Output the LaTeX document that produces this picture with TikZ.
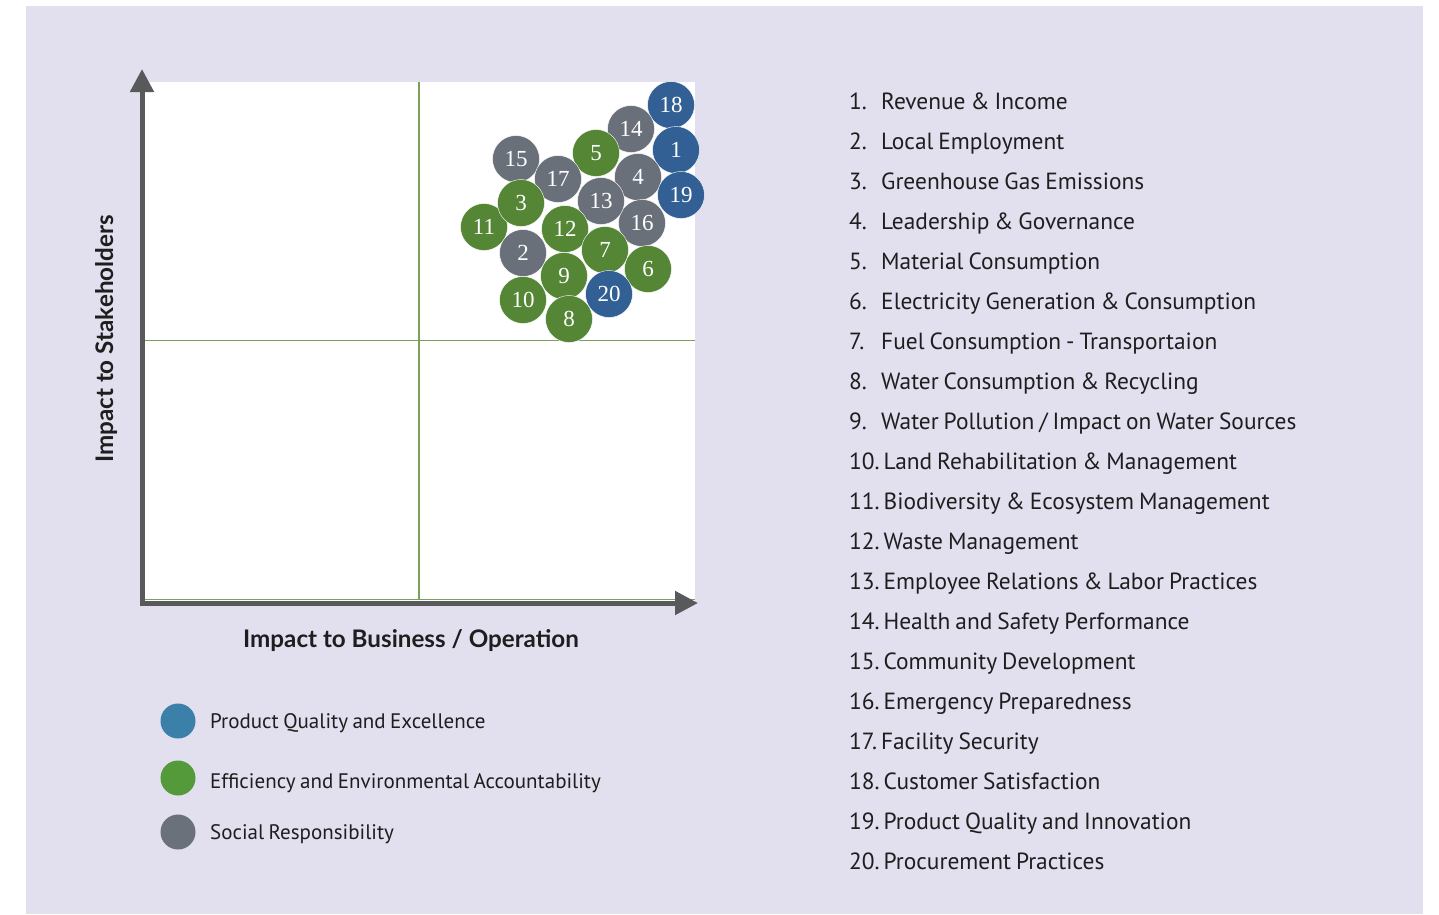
\documentclass[tikz,border=0pt]{standalone}
\usepackage{fontspec}
\setmainfont{PT Sans}[WordSpace=0.8]
\newfontfamily\numfont{Liberation Serif}
\newfontfamily\axisfont{Lato}
\usetikzlibrary{arrows.meta}
\definecolor{bgcol}{RGB}{226,223,238}
\definecolor{bubblue}{RGB}{50,96,148}
\definecolor{bubgreen}{RGB}{84,134,54}
\definecolor{bubgray}{RGB}{106,112,122}
\definecolor{legblue}{RGB}{58,128,168}
\definecolor{leggreen}{RGB}{84,154,58}
\definecolor{leggray}{RGB}{107,113,123}
\definecolor{gridgreen}{RGB}{122,160,90}
\definecolor{axisgray}{RGB}{88,89,91}
\definecolor{txt}{RGB}{30,30,30}
\tikzset{
  bub/.style={circle, minimum size=47pt, inner sep=0pt, text=white, draw=white, line width=0.4pt,
    font=\numfont\fontsize{23}{23}\selectfont},
  bb/.style={bub, fill=bubblue},
  bg/.style={bub, fill=bubgreen},
  bz/.style={bub, fill=bubgray},
  gridline/.style={draw=gridgreen, line width=1.3pt},
  axisline/.style={draw=axisgray, line width=5pt, -{Triangle[length=23pt,width=23pt]}},
  legdot/.style={circle, minimum size=35pt, inner sep=0pt},
  legtext/.style={anchor=base west, text=txt, inner sep=0pt, font=\fontsize{21}{21}\selectfont},
  listtext/.style={anchor=base west, text=txt, inner sep=0pt, font=\fontsize{23.4}{23.4}\selectfont},
  axislabel/.style={anchor=base, text=txt, inner sep=0pt, font=\axisfont\bfseries\fontsize{24.2}{24.2}\selectfont}
}
\begin{document}
\begin{tikzpicture}[x=1pt,y=-1pt]
\useasboundingbox (0,0) rectangle (1439,914);
\fill[white] (0,0) rectangle (1439,914);
\fill[bgcol] (26,6) rectangle (1423,914);
\fill[white] (145,82) rectangle (695,602);
% grid
\coordinate (vtop) at (419,82);
\coordinate (vbot) at (419,600);
\coordinate (hleft) at (145,340.5);
\coordinate (hright) at (695,340.5);
\coordinate (bleft) at (145,599.5);
\coordinate (bright) at (695,599.5);
\draw[gridline] (vtop) -- (vbot);
\draw[gridline] (hleft) -- (hright);
\draw[gridline] (bleft) -- (bright);
% axes
\coordinate (ytip) at (142,69);
\coordinate (xstart) at (139.5,603);
\coordinate (xtip) at (698,603);
\coordinate (ystart) at (142,605.5);
\draw[axisline] (ystart) -- (ytip);
\draw[axisline] (xstart) -- (xtip);
% axis labels
\node[axislabel] (xlab) at (411,647) {Impact to Business / Operation};
\node[axislabel, rotate=90] (ylab) at (113,339) {Impact to Stakeholders};
% bubbles
\node[bb] (b18) at (671,105) {18};
\node[bz] (b14) at (631,129) {14};
\node[bb] (b1) at (676,150) {1};
\node[bg] (b5) at (596,153) {5};
\node[bz] (b15) at (516,159) {15};
\node[bz] (b4) at (638,177) {4};
\node[bb] (b19) at (681,195) {19};
\node[bz] (b17) at (558,179) {17};
\node[bg] (b11) at (484,227) {11};
\node[bg] (b3) at (521,203) {3};
\node[bz] (b16) at (642,223) {16};
\node[bz] (b13) at (601,201) {13};
\node[bg] (b12) at (565,229) {12};
\node[bz] (b2) at (523,253) {2};
\node[bg] (b6) at (648,269) {6};
\node[bg] (b7) at (605,250) {7};
\node[bg] (b9) at (564,276) {9};
\node[bg] (b10) at (523,300) {10};
\node[bg] (b8) at (569,319) {8};
\node[bb] (b20) at (609,294) {20};
% legend
\node[legdot, fill=legblue] (l1) at (178,721) {};
\node[legdot, fill=leggreen] (l2) at (178,778) {};
\node[legdot, fill=leggray] (l3) at (178,832) {};
\node[legtext] (t1) at (210,728) {Product Quality and Excellence};
\node[legtext] (t2) at (210,788) {Efficiency and Environmental Accountability};
\node[legtext] (t3) at (210,839) {Social Responsibility};
% list
\foreach \n/\t [count=\i] in {1/{Revenue \& Income}, 2/{Local Employment}, 3/{Greenhouse Gas Emissions},
  4/{Leadership \& Governance}, 5/{Material Consumption}, 6/{Electricity Generation \& Consumption},
  7/{Fuel Consumption - Transportaion}, 8/{Water Consumption \& Recycling},
  9/{Water Pollution / Impact on Water Sources}}{
  \node[listtext] (n\i) at (849,{109+40*(\i-1)}) {\n.};
  \node[listtext] (i\i) at (881,{109+40*(\i-1)}) {\t};
}
\foreach \n/\t [count=\j from 10] in {10/{Land Rehabilitation \& Management}, 11/{Biodiversity \& Ecosystem Management},
  12/{Waste Management}, 13/{Employee Relations \& Labor Practices}, 14/{Health and Safety Performance},
  15/{Community Development}, 16/{Emergency Preparedness}, 17/{Facility Security},
  18/{Customer Satisfaction}, 19/{Product Quality and Innovation}, 20/{Procurement Practices}}{
  \node[listtext] (i\j) at (849,{109+40*(\j-1)}) {\n.\,\t};
}
\end{tikzpicture}
\end{document}
